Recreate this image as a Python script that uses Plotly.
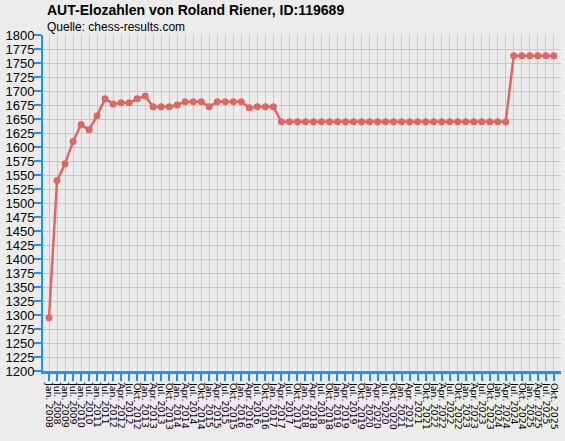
import plotly.graph_objects as go

# rating periods (x axis categories)
periods = [
    "Jan. 2008", "Jul. 2008", "Jan. 2009", "Jul. 2009", "Jan. 2010", "Jul. 2010",
    "Jan. 2011", "Jul. 2011",
    "Jan. 2012", "Apr. 2012", "Jul. 2012", "Okt. 2012",
    "Jan. 2013", "Apr. 2013", "Jul. 2013", "Okt. 2013",
    "Jan. 2014", "Apr. 2014", "Jul. 2014", "Okt. 2014",
    "Jan. 2015", "Apr. 2015", "Jul. 2015", "Okt. 2015",
    "Jan. 2016", "Apr. 2016", "Jul. 2016", "Okt. 2016",
    "Jan. 2017", "Apr. 2017", "Jul. 2017", "Okt. 2017",
    "Jan. 2018", "Apr. 2018", "Jul. 2018", "Okt. 2018",
    "Jan. 2019", "Apr. 2019", "Jul. 2019", "Okt. 2019",
    "Jan. 2020", "Apr. 2020", "Jul. 2020", "Okt. 2020",
    "Jan. 2021", "Apr. 2021", "Jul. 2021", "Okt. 2021",
    "Jan. 2022", "Apr. 2022", "Jul. 2022", "Okt. 2022",
    "Jan. 2023", "Apr. 2023", "Jul. 2023", "Okt. 2023",
    "Jan. 2024", "Apr. 2024", "Jul. 2024", "Okt. 2024",
    "Jan. 2025", "Apr. 2025", "Jul. 2025", "Okt. 2025",
]

# Elo values
elo = [
    1295, 1540, 1570, 1610, 1640, 1631, 1656, 1686,
    1677, 1679, 1679, 1686,
    1691, 1672, 1672, 1672,
    1675, 1681, 1681, 1681,
    1672, 1681, 1681, 1681,
    1681, 1670, 1672, 1672,
    1672, 1645, 1645, 1645,
    1645, 1645, 1645, 1645,
    1645, 1645, 1645, 1645,
    1645, 1645, 1645, 1645,
    1645, 1645, 1645, 1645,
    1645, 1645, 1645, 1645,
    1645, 1645, 1645, 1645,
    1645, 1645, 1763, 1763,
    1763, 1763, 1763, 1763,
]

y_ticks = list(range(1200, 1801, 25))

blue = "#1E90FF"
bg = "#ECECEC"
grid = "#C8C8C8"
red = "#E06666"

fig = go.Figure()
fig.add_trace(go.Scatter(
    x=periods, y=elo, mode="lines+markers",
    line=dict(color=red, width=2.5),
    marker=dict(color=red, size=7),
    showlegend=False,
))

fig.update_layout(
    width=565, height=441,
    margin=dict(l=43, r=4, t=35, b=70),
    paper_bgcolor=bg, plot_bgcolor=bg,
    font=dict(family="Liberation Sans, Arial, sans-serif", color="black"),
    annotations=[
        dict(text="<b>AUT-Elozahlen von Roland Riener, ID:119689</b>",
             xref="paper", yref="paper", x=0, y=1, xanchor="left", yanchor="middle",
             xshift=2, yshift=25, showarrow=False, font=dict(size=14)),
        dict(text="Quelle: chess-results.com",
             xref="paper", yref="paper", x=0, y=1, xanchor="left", yanchor="middle",
             xshift=2, yshift=8, showarrow=False, font=dict(size=12)),
    ],
)

fig.update_xaxes(
    type="category", range=[-0.75, 63.9],
    tickmode="array", tickvals=periods, ticktext=periods,
    showgrid=True, gridcolor=grid, gridwidth=1,
    showline=True, linecolor=blue, linewidth=3,
    ticks="outside", ticklen=7, tickwidth=2, tickcolor=blue,
    tickangle=90, tickfont=dict(size=9.5, family="DejaVu Sans, sans-serif"),
    zeroline=False, automargin=False,
)
fig.update_yaxes(
    range=[1200, 1800], tickvals=y_ticks,
    showgrid=True, gridcolor=grid, gridwidth=1,
    showline=True, linecolor=blue, linewidth=2,
    ticks="outside", ticklen=7, tickwidth=2, tickcolor=blue,
    tickfont=dict(size=13), ticklabelstandoff=-3,
    zeroline=False, automargin=False,
)

# drop the browser's default body margin so the figure sits at the window corner
fig.write_html("out.html", config={"displayModeBar": False},
               post_script="document.body.style.margin = '0';")
